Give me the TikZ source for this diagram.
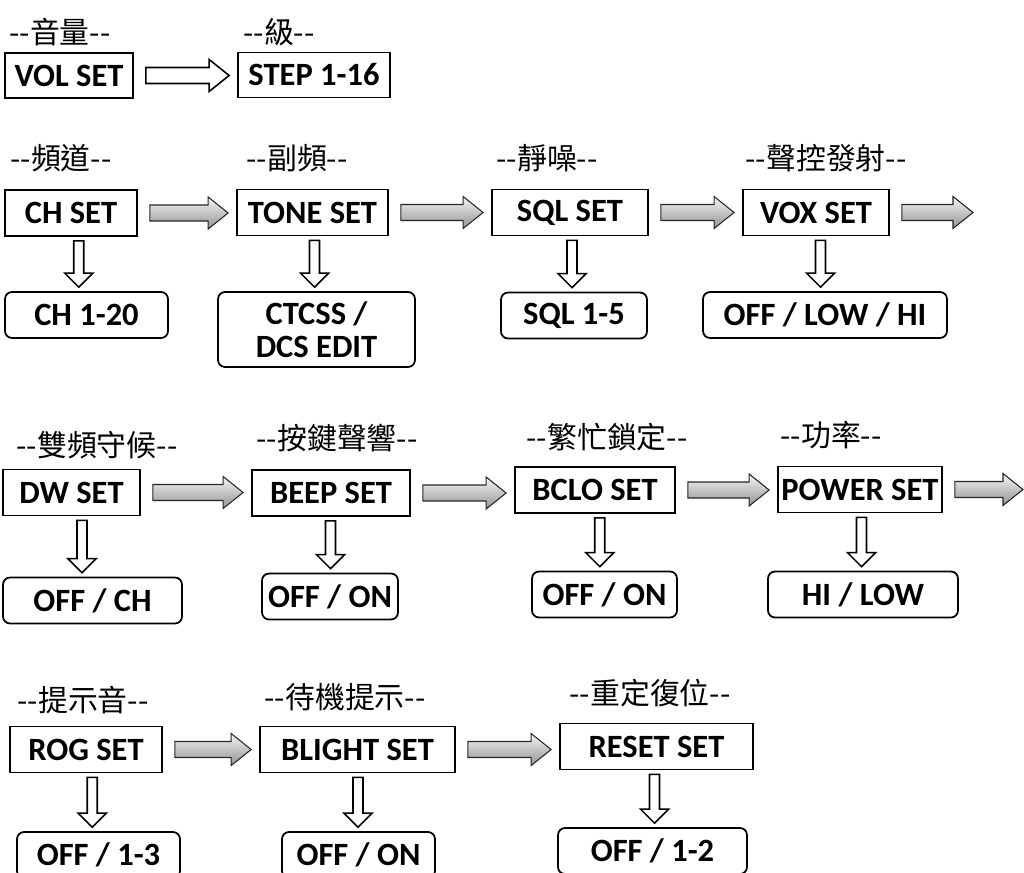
\documentclass[tikz,border=0pt]{standalone}
\usepackage{fontspec}
\setmainfont{Carlito}
\newfontfamily\cjk{Noto Sans CJK TC}
\usetikzlibrary{calc}

\newcommand\tagtext[1]{-\kern0pt-#1-\kern0pt-}

% block arrow from one node to the next
\newcommand\harrow[3]{%
  \path[#1] let \p1=#2, \p2=#3 in
    (\x1+0.24cm,\y1+0.16cm) -- (\x2-0.56cm,\y1+0.16cm) -- (\x2-0.56cm,\y1+0.32cm)
    -- (\x2-0.16cm,\y1) -- (\x2-0.56cm,\y1-0.32cm) -- (\x2-0.56cm,\y1-0.16cm)
    -- (\x1+0.24cm,\y1-0.16cm) -- cycle;}

% hollow arrow down to the value box
\newcommand\varrow[2]{%
  \path[hollowarrow] let \p1=#1, \p2=#2, \p3=($#1!0.5!#2$) in
    (\x3-0.1cm,\y1-0.08cm) -- (\x3-0.1cm,\y2+0.36cm) -- (\x3-0.28cm,\y2+0.36cm)
    -- (\x3,\y2+0.08cm) -- (\x3+0.28cm,\y2+0.36cm) -- (\x3+0.1cm,\y2+0.36cm)
    -- (\x3+0.1cm,\y1-0.08cm) -- cycle;}

\begin{document}
\begin{tikzpicture}[
x=0.02cm, y=-0.02cm,
setbox/.style={
draw,
line width=1pt,
font=\bfseries\fontsize{18.5}{18.5}\selectfont,
align=center,
inner sep=0pt,
minimum height=0.92cm,
minimum width=#1
},
valbox/.style={
setbox=#1,
rounded corners=4pt
},
tag/.style={
font=\cjk\fontsize{17}{20}\selectfont,
inner sep=0pt
},
grayarrow/.style={
draw=black!85,
line width=0.6pt,
top color=gray!8,
bottom color=gray!85
},
hollowarrow/.style={
draw,
line width=0.9pt,
fill=white
}
]

\useasboundingbox (0,0) rectangle (1024,872);
\clip (0,0) rectangle (1024,872);

% row 0
\node[tag] (vol-tag) at (60,32) {\tagtext{音量}};
\node[tag] (step-tag) at (279,32) {\tagtext{級}};
\node[setbox=2.56cm, minimum height=0.9cm] (vol) at (69,75.5) {VOL SET};
\node[setbox=3.04cm, minimum height=0.9cm] (step) at (314,75) {STEP 1-16};
\harrow{hollowarrow}{(vol.east)}{(step.west)}

% row 1
\node[tag] (ch-tag) at (61,158) {\tagtext{頻道}};
\node[tag] (tone-tag) at (297,158) {\tagtext{副頻}};
\node[tag] (sql-tag) at (547,158) {\tagtext{靜噪}};
\node[tag] (vox-tag) at (826,158) {\tagtext{聲控發射}};

\node[setbox=2.64cm] (ch) at (71,213) {CH SET};
\node[setbox=3.02cm] (tone) at (312.5,212.5) {TONE SET};
\node[setbox=3.12cm] (sql) at (570,212.5) {SQL SET};
\node[setbox=2.92cm] (vox) at (816,212.5) {VOX SET};
\coordinate (vox-end) at (981,212.5);

\node[valbox=3.26cm] (ch-val) at (86.5,315) {CH 1-20};
\node[valbox=3.94cm, minimum height=1.5cm] (tone-val) at (316.5,329.5) {CTCSS /\\DCS EDIT};
\node[valbox=2.92cm] (sql-val) at (574,315.5) {SQL 1-5};
\node[valbox=4.88cm] (vox-val) at (825,315) {OFF / LOW / HI};

\harrow{grayarrow}{(ch.east)}{(tone.west)}
\harrow{grayarrow}{(tone.east)}{(sql.west)}
\harrow{grayarrow}{(sql.east)}{(vox.west)}
\harrow{grayarrow}{(vox.east)}{(vox-end)}

\varrow{(ch.south)}{(ch-val.north)}
\varrow{(tone.south)}{(tone-val.north)}
\varrow{(sql.south)}{(sql-val.north)}
\varrow{(vox.south)}{(vox-val.north)}

% row 2
\node[tag] (dw-tag) at (97,445) {\tagtext{雙頻守候}};
\node[tag] (beep-tag) at (337,438) {\tagtext{按鍵聲響}};
\node[tag] (bclo-tag) at (607,437) {\tagtext{繁忙鎖定}};
\node[tag] (power-tag) at (831,435) {\tagtext{功率}};

\node[setbox=2.74cm] (dw) at (71.5,492.5) {DW SET};
\node[setbox=3.16cm] (beep) at (331,493) {BEEP SET};
\node[setbox=3.2cm] (bclo) at (595,490) {BCLO SET};
\node[setbox=3.28cm] (power) at (860,489.5) {POWER SET};
\coordinate (power-end) at (1031,489.5);

\node[valbox=3.58cm] (dw-val) at (92.5,600.5) {OFF / CH};
\node[valbox=2.72cm] (beep-val) at (330,596.5) {OFF / ON};
\node[valbox=2.9cm] (bclo-val) at (604.5,594.5) {OFF / ON};
\node[valbox=3.8cm] (power-val) at (863,594.5) {HI / LOW};

\harrow{grayarrow}{(dw.east)}{(beep.west)}
\harrow{grayarrow}{(beep.east)}{(bclo.west)}
\harrow{grayarrow}{(bclo.east)}{(power.west)}
\harrow{grayarrow}{(power.east)}{(power-end)}

\varrow{(dw.south)}{(dw-val.north)}
\varrow{(beep.south)}{(beep-val.north)}
\varrow{(bclo.south)}{(bclo-val.north)}
\varrow{(power.south)}{(power-val.north)}

% row 3
\node[tag] (rog-tag) at (83,700) {\tagtext{提示音}};
\node[tag] (blight-tag) at (345,697) {\tagtext{待機提示}};
\node[tag] (reset-tag) at (650,693) {\tagtext{重定復位}};

\node[setbox=3.04cm] (rog) at (86,749.5) {ROG SET};
\node[setbox=3.9cm] (blight) at (357.5,749.5) {BLIGHT SET};
\node[setbox=3.86cm] (reset) at (656.5,746.5) {RESET SET};

\node[valbox=3.26cm] (rog-val) at (98.5,855) {OFF / 1-3};
\node[valbox=3.06cm] (blight-val) at (358.5,855) {OFF / ON};
\node[valbox=3.78cm] (reset-val) at (652.5,851) {OFF / 1-2};

\harrow{grayarrow}{(rog.east)}{(blight.west)}
\harrow{grayarrow}{(blight.east)}{(reset.west)}

\varrow{(rog.south)}{(rog-val.north)}
\varrow{(blight.south)}{(blight-val.north)}
\varrow{(reset.south)}{(reset-val.north)}

\end{tikzpicture}
\end{document}
